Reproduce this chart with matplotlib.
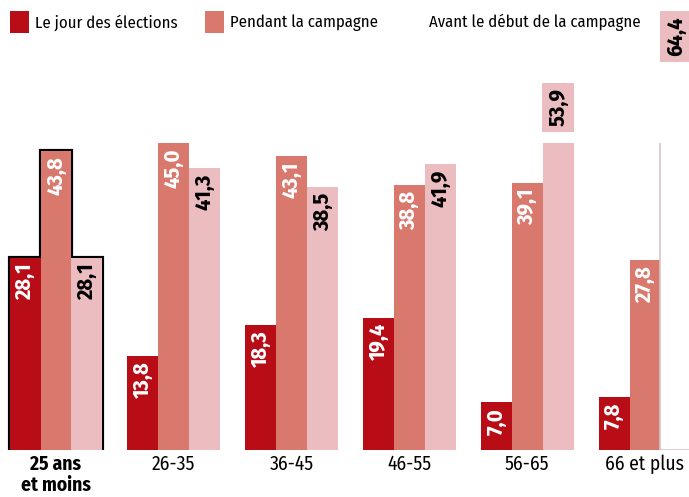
import numpy as np
import matplotlib
matplotlib.use('Agg')
import matplotlib.pyplot as plt
from matplotlib.patches import Patch

# data
groups = ['25 ans\net moins', '26-35', '36-45', '46-55', '56-65', '66 et plus']
series = ['Le jour des élections', 'Pendant la campagne', 'Avant le début de la campagne']
jour = [28.1, 13.8, 18.3, 19.4, 7.0, 7.8]
pendant = [43.8, 45.0, 43.1, 38.8, 39.1, 27.8]
avant = [28.1, 41.3, 38.5, 41.9, 53.9, 64.4]

colors = ['#b80c16', '#d9786d', '#ebbcc0']
textcol = ['white', 'white', 'black']

plt.rcParams['font.family'] = ['Fira Sans Condensed', 'DejaVu Sans']

fig = plt.figure(figsize=(6.89, 4.97), dpi=100)
ax = fig.add_axes([0, 47 / 497, 1, (450 - 143) / 497])

x = np.arange(len(groups))
w = 0.263
top = 45.0
ax.set_ylim(0, top)
ax.set_xlim(-56 / 117.8, (689 - 56) / 117.8)

allvals = [jour, pendant, avant]
# black outline around the first group
for k, vals in enumerate(allvals):
    ax.bar(x[0] + (k - 1) * w, vals[0], w, color='none', edgecolor='black', linewidth=3, zorder=1)

for k, vals in enumerate(allvals):
    for i, v in enumerate(vals):
        xi = x[i] + (k - 1) * w
        if k == 2 and i == len(groups) - 1:
            ax.bar(xi, v, w, color='white', edgecolor='#d9c3c8', linewidth=1.2, zorder=2)
        else:
            ax.bar(xi, v, w, color=colors[k], edgecolor='none', zorder=2)
        lab = ('%.1f' % v).replace('.', ',')
        if v > top:
            ax.text(xi, v - 0.9, lab, rotation=90, ha='center', va='top', fontsize=16,
                    fontweight='bold', color='black', clip_on=False, zorder=4,
                    bbox=dict(boxstyle='square,pad=0.25', facecolor=colors[2], edgecolor='none'))
        else:
            ax.text(xi, v - 0.8, lab, rotation=90, ha='center', va='top', fontsize=16,
                    fontweight='bold', color=textcol[k], zorder=4)

ax.set_xticks(x)
ax.set_xticklabels(groups, fontsize=14, linespacing=1.1)
ax.get_xticklabels()[0].set_fontweight('bold')
ax.tick_params(length=0, pad=3)
ax.set_yticks([])
for s in ax.spines.values():
    s.set_visible(False)

handles = [Patch(facecolor=colors[0]), Patch(facecolor=colors[1]), Patch(facecolor='none', edgecolor='none')]
fig.legend(handles, series, loc='upper left', bbox_to_anchor=(0.01, 0.985), ncol=3, frameon=False,
           fontsize=12, handlelength=1.15, handleheight=1.7, handletextpad=0.35, columnspacing=1.6,
           borderaxespad=0, borderpad=0.2)

fig.savefig('out.png', dpi=100)
